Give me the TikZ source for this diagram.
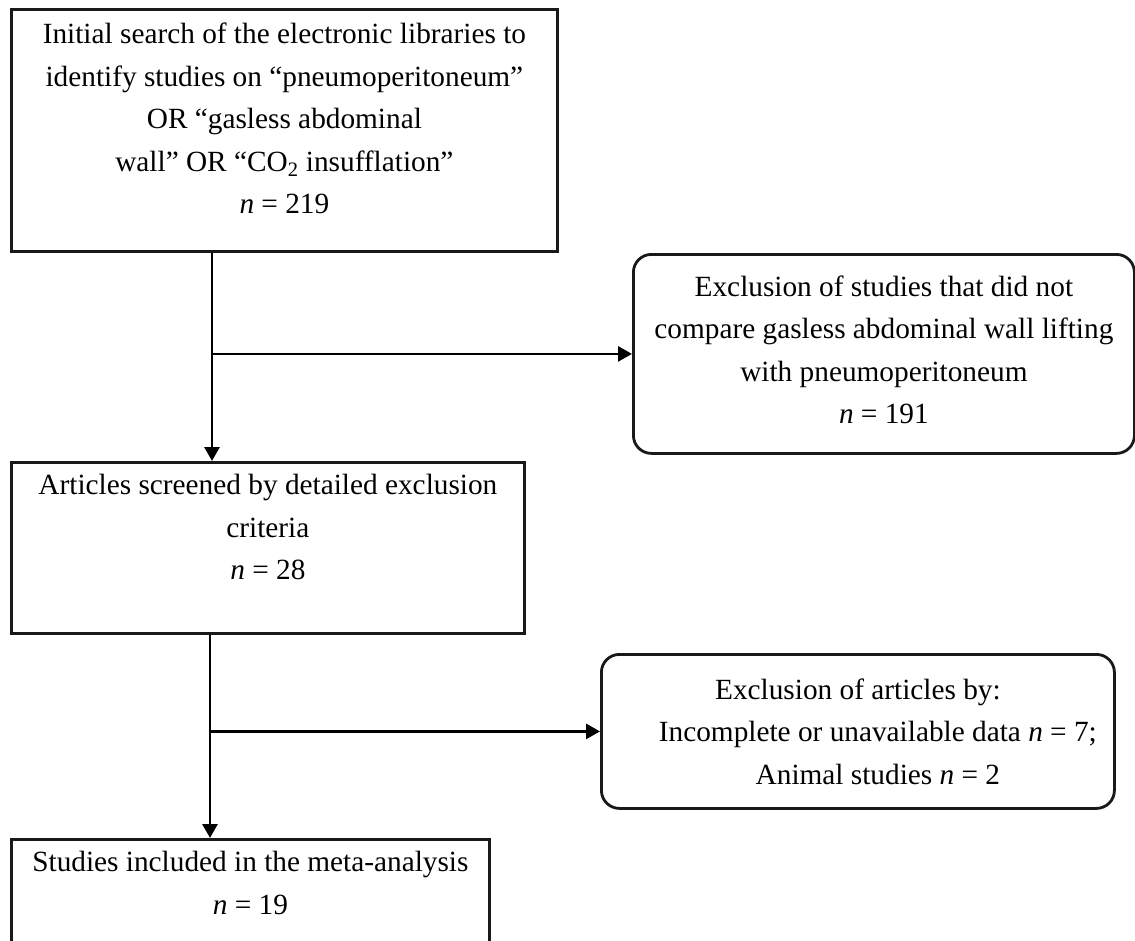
\documentclass[tikz,border=0pt]{standalone}
\usepackage{fontspec}
\setmainfont{Liberation Serif}
\usetikzlibrary{arrows.meta}
\begin{document}
\begin{tikzpicture}[x=1pt,y=-1pt,
  box/.style={draw=black!90, line width=2.8pt, inner sep=0pt},
  rbox/.style={box, rounded corners=18pt},
  txt/.style={align=center, font=\fontsize{29.3}{42.5}\selectfont, inner sep=0pt},
  arr/.style={line width=2.8pt, -{Triangle[length=14pt,width=15pt]}}]
\useasboundingbox (0,0) rectangle (1135,940);
\clip (0,0) rectangle (1135,940);
% boxes
\node[box, minimum width=546pt, minimum height=242pt, anchor=north west] (b1) at (10,8) {};
\node[rbox, minimum width=501pt, minimum height=199pt, anchor=north west] (r1) at (632,253) {};
\node[box, minimum width=513pt, minimum height=171pt, anchor=north west] (b2) at (10,461) {};
\node[rbox, minimum width=513pt, minimum height=154pt, anchor=north west] (r2) at (600,653) {};
\node[box, minimum width=478pt, minimum height=160pt, anchor=north west] (b3) at (10,838) {};
% texts
\node[txt, anchor=north] (t1) at ([yshift=-15pt]b1.north) {Initial search of the electronic libraries to\\
identify studies on “pneumoperitoneum”\\
OR “gasless abdominal\\
wall” OR “CO\textsubscript{2} insufflation”\\
\textit{n} = 219};
\node[txt] (tr1) at ([yshift=4pt]r1.center) {Exclusion of studies that did not\\
compare gasless abdominal wall lifting\\
with pneumoperitoneum\\
\textit{n} = 191};
\node[txt, anchor=north] (t2) at ([yshift=-13pt]b2.north) {Articles screened by detailed exclusion\\
criteria\\
\textit{n} = 28};
\node[txt] (tr2) at (r2.center) {Exclusion of articles by:\\
\hspace*{40pt}Incomplete or unavailable data \textit{n} = 7;\\
\hspace*{40pt}Animal studies \textit{n} = 2};
\node[txt, anchor=north] (t3) at ([yshift=-13pt]b3.north) {Studies included in the meta-analysis\\
\textit{n} = 19};
% connectors
\coordinate (x1) at (212,0);
\coordinate (x2) at (210,0);
\coordinate (j1) at (x1 |- r1.west);
\coordinate (j2) at (x2 |- r2.west);
\draw[arr] (b1.south -| x1) -- (b2.north -| x1);
\draw[arr] (j1) -- (r1.west);
\draw[arr] (b2.south -| x2) -- (b3.north -| x2);
\draw[arr] (j2) -- (r2.west);
\end{tikzpicture}
\end{document}
